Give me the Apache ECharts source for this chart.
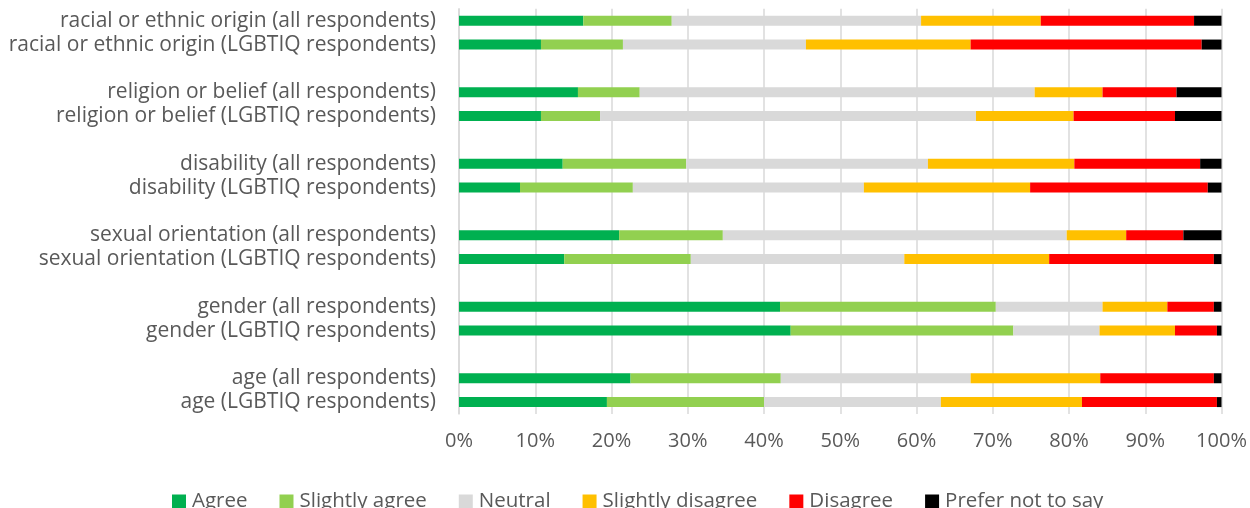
<!DOCTYPE html>
<html>
<head>
<meta charset="utf-8">
<script src="https://cdn.jsdelivr.net/npm/echarts@6/dist/echarts.min.js"></script>
<style>
  html, body { margin: 0; padding: 0; background: #fff; }
  #chart { width: 1250px; height: 508px; }
</style>
</head>
<body>
<div id="chart"></div>
<script>
// Rows, top to bottom; a blank slot separates each pair.
const categories = [
  'racial or ethnic origin (all respondents)',
  'racial or ethnic origin (LGBTIQ respondents)',
  'religion or belief (all respondents)',
  'religion or belief (LGBTIQ respondents)',
  'disability (all respondents)',
  'disability (LGBTIQ respondents)',
  'sexual orientation (all respondents)',
  'sexual orientation (LGBTIQ respondents)',
  'gender (all respondents)',
  'gender (LGBTIQ respondents)',
  'age (all respondents)',
  'age (LGBTIQ respondents)'
];

// Share of responses (%) per row.
const agree            = [16.3, 10.75, 15.6, 10.75, 13.6,  8.0, 21.0, 13.8, 42.1, 43.5, 22.5, 19.4];
const slightlyAgree    = [11.6, 10.75,  8.1,  7.75, 16.2, 14.8, 13.6, 16.6, 28.3, 29.2, 19.7, 20.6];
const neutral          = [32.7, 24.0,  51.8, 49.3,  31.7, 30.3, 45.1, 28.0, 14.0, 11.3, 24.9, 23.2];
const slightlyDisagree = [15.7, 21.6,   8.9, 12.8,  19.2, 21.8,  7.8, 19.0,  8.5,  9.9, 17.0, 18.5];
const disagree         = [20.1, 30.3,   9.7, 13.3,  16.5, 23.3,  7.5, 21.6,  6.1,  5.5, 14.9, 17.7];
const preferNotToSay   = [ 3.6,  2.6,   5.9,  6.1,   2.8,  1.8,  5.0,  1.0,  1.0,  0.6,  1.0,  0.6];

const seriesNames  = ['Agree', 'Slightly agree', 'Neutral', 'Slightly disagree', 'Disagree', 'Prefer not to say'];
const seriesValues = [agree, slightlyAgree, neutral, slightlyDisagree, disagree, preferNotToSay];
const seriesColors = ['#00B050', '#92D050', '#D9D9D9', '#FFC000', '#FF0000', '#000000'];

const xTicks = [0, 10, 20, 30, 40, 50, 60, 70, 80, 90, 100];

// Expand rows into axis slots, inserting an empty slot after every pair.
function withGaps(arr, blank) {
  const out = [];
  arr.forEach((v, i) => {
    out.push(v);
    if (i % 2 === 1 && i < arr.length - 1) out.push(blank);
  });
  return out;
}

const axisCats = withGaps(categories, '');

const FONT = '"Open Sans", sans-serif';
const TEXT = '#595959';

const chart = echarts.init(document.getElementById('chart'), null, { renderer: 'canvas' });

chart.setOption({
  animation: false,
  backgroundColor: '#ffffff',
  textStyle: { fontFamily: FONT },
  grid: { left: 459, right: 28.5, top: 8.8, bottom: 94, containLabel: false },
  legend: {
    data: seriesNames,
    top: 491,
    left: 172,
    padding: 0,
    itemWidth: 14,
    itemHeight: 14,
    itemGap: 32,
    icon: 'rect',
    textStyle: { color: TEXT, fontSize: 20.5, fontFamily: FONT, padding: [0, 0, 0, 1] }
  },
  xAxis: {
    type: 'value',
    min: xTicks[0],
    max: xTicks[xTicks.length - 1],
    interval: xTicks[1] - xTicks[0],
    axisLine: { show: false },
    axisTick: { show: false },
    splitLine: { show: true, lineStyle: { color: '#D9D9D9', width: 1.5 } },
    axisLabel: {
      color: TEXT, fontSize: 20, fontFamily: FONT, margin: 17,
      formatter: v => v + '%'
    }
  },
  yAxis: {
    type: 'category',
    data: axisCats,
    inverse: true,
    axisLine: { show: true, lineStyle: { color: '#D9D9D9', width: 1.5 } },
    axisTick: { show: false },
    axisLabel: { color: TEXT, fontSize: 21, fontFamily: FONT, margin: 23, interval: 0 }
  },
  series: seriesNames.map((name, k) => ({
    name,
    type: 'bar',
    stack: 'total',
    barWidth: 10,
    itemStyle: { color: seriesColors[k] },
    emphasis: { disabled: true },
    data: withGaps(seriesValues[k], null)
  }))
});
</script>
</body>
</html>
